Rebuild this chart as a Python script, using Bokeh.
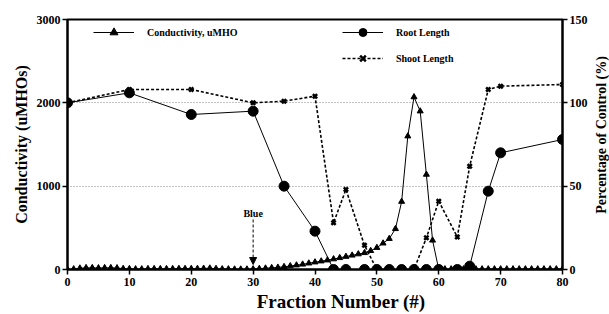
import math
from bokeh.plotting import figure
from bokeh.layouts import row
from bokeh.models import (Range1d, LinearAxis, FixedTicker, Legend, LegendItem,
                          Label, Arrow, NormalHead)
from bokeh.core.properties import value
from bokeh.embed import file_html
from bokeh.resources import INLINE

# ---- data ----
cond_fraction = list(range(0, 81))
conductivity = [0, 5, 15, 20, 20, 18, 20, 20, 18, 10,
                8, 5, 5, 8, 8, 8, 8, 8, 10, 10,
                10, 10, 12, 15, 10, 5, 5, 3, 3, 3,
                5, 10, 15, 20, 25, 33, 42, 52, 62, 75,
                88, 100, 112, 125, 140, 155, 170, 185, 200, 225,
                262, 315, 370, 488, 815, 1600, 2070, 1900, 1140, 350,
                0, 5, 5, 5, 5, 5, 5, 5, 5, 5,
                5, 5, 5, 5, 5, 5, 5, 5, 5, 5, 5]
growth_fraction = [0, 10, 20, 30, 35, 40, 43, 45, 48, 50, 52, 54, 56, 58, 60, 63, 65, 68, 70, 80]
root_pct = [100, 106, 93, 95, 50, 23, 0, 0, 0, 0, 0, 0, 0, 0, 0, 0, 2, 47, 70, 78]
shoot_pct = [100, 108, 108, 100, 101, 104, 28, 48, 14.5, 0, 0, 0, 0, 19, 41, 19.5, 62, 108, 110, 111]
x_ticks = [0, 10, 20, 30, 40, 50, 60, 70, 80]
left_ticks = [0, 1000, 2000, 3000]
right_ticks = [0, 50, 100, 150]

FONT = "Liberation Serif"
RIGHT_LABEL = "Percentage of Control (%)"

p = figure(width=592, height=314, output_backend="svg", toolbar_location=None,
           x_range=Range1d(0, 80), y_range=Range1d(0, 3000),
           min_border_left=67, min_border_right=30, min_border_top=19, min_border_bottom=43)
p.extra_y_ranges = {"pct": Range1d(0, 150)}
p.background_fill_color = "white"
p.border_fill_color = "white"
p.outline_line_color = "black"
p.outline_line_width = 2

p.xgrid.visible = False
p.ygrid.ticker = FixedTicker(ticks=[1000, 2000])
p.ygrid.grid_line_color = "#888888"
p.ygrid.grid_line_dash = "1 2"
p.ygrid.grid_line_width = 1

def style_axis(ax):
    ax.axis_line_color = "black"
    ax.axis_line_width = 2
    ax.major_tick_line_color = "black"
    ax.major_tick_line_width = 1.5
    ax.major_tick_in = 0
    ax.major_tick_out = 5
    ax.minor_tick_line_color = None
    ax.major_label_text_font = FONT
    ax.major_label_text_font_style = "bold"
    ax.major_label_text_font_size = "12px"
    ax.major_label_text_color = "black"
    ax.major_label_standoff = 2
    ax.axis_label_text_font = FONT
    ax.axis_label_text_font_style = "bold"
    ax.axis_label_text_font_size = "16px"
    ax.axis_label_text_color = "black"

p.xaxis.ticker = FixedTicker(ticks=x_ticks)
p.yaxis.ticker = FixedTicker(ticks=left_ticks)
style_axis(p.xaxis[0])
style_axis(p.yaxis[0])
p.xaxis.axis_label = "\u00a0" * 11 + "Fraction Number (#)"
p.xaxis.axis_label_text_font_size = "19px"
p.xaxis.axis_label_standoff = 2
p.xaxis.major_label_standoff = 3
p.yaxis.axis_label = "Conductivity (uMHOs)"
p.yaxis.axis_label_standoff = 4

raxis = LinearAxis(y_range_name="pct", ticker=FixedTicker(ticks=right_ticks))
style_axis(raxis)
p.add_layout(raxis, "right")

# ---- series ----
c_line = p.line(cond_fraction, conductivity, line_color="black", line_width=1)
c_pts = p.scatter(cond_fraction, conductivity, marker="triangle", size=6,
                  fill_color="black", line_color="black")

r_line = p.line(growth_fraction, root_pct, y_range_name="pct", line_color="black", line_width=1)
r_pts = p.scatter(growth_fraction, root_pct, y_range_name="pct", marker="circle", size=10,
                  fill_color="black", line_color="black")

s_line = p.line(growth_fraction, shoot_pct, y_range_name="pct", line_color="black",
                line_width=1.6, line_dash="3 2")
s_pts = p.scatter(growth_fraction, shoot_pct, y_range_name="pct", marker="x", size=6,
                  line_color="black", line_width=2.5)

def make_legend(items, loc):
    leg = Legend(items=items, location=loc, orientation="vertical")
    leg.border_line_color = None
    leg.background_fill_alpha = 0
    leg.padding = 0
    leg.margin = 0
    leg.spacing = 6
    leg.glyph_width = 41
    leg.glyph_height = 20
    leg.label_height = 20
    leg.label_standoff = 13
    leg.label_text_font = FONT
    leg.label_text_font_style = "bold"
    leg.label_text_font_size = "10px"
    leg.label_text_color = "black"
    return leg

leg1 = make_legend([LegendItem(label="Conductivity, uMHO", renderers=[c_line, c_pts])], (26, 227))
leg2 = make_legend([LegendItem(label="Root Length", renderers=[r_line, r_pts]),
                    LegendItem(label="Shoot Length", renderers=[s_line, s_pts])], (275, 201))
p.add_layout(leg1)
p.add_layout(leg2)

# ---- annotations ----
p.add_layout(Label(x=30, y=667, text="Blue", text_font=FONT, text_font_style="bold",
                   text_font_size="10px", text_align="center", text_baseline="middle",
                   text_color="black"))
p.add_layout(Arrow(x_start=30, y_start=600, x_end=30, y_end=60, line_color="black",
                   line_width=1, line_dash="3 2",
                   end=NormalHead(size=7, fill_color="black", line_color="black")))

# ---- right-hand axis title (separate narrow panel, reads bottom-to-top) ----
side = figure(width=17, height=314, output_backend="svg", toolbar_location=None,
              x_range=Range1d(0, 1), y_range=Range1d(0, 314),
              min_border_left=0, min_border_right=0, min_border_top=0, min_border_bottom=0)
side.axis.visible = False
side.grid.visible = False
side.outline_line_color = None
side.background_fill_color = "white"
side.border_fill_color = "white"
side.text(x=[0.5], y=[314 - 145], text=[RIGHT_LABEL], angle=math.pi / 2,
          text_align="center", text_baseline="middle", text_color="black",
          text_font=value(FONT), text_font_style="bold", text_font_size="14px")

layout = row(p, side, spacing=0)
open("out.html", "w").write(file_html(layout, INLINE))
